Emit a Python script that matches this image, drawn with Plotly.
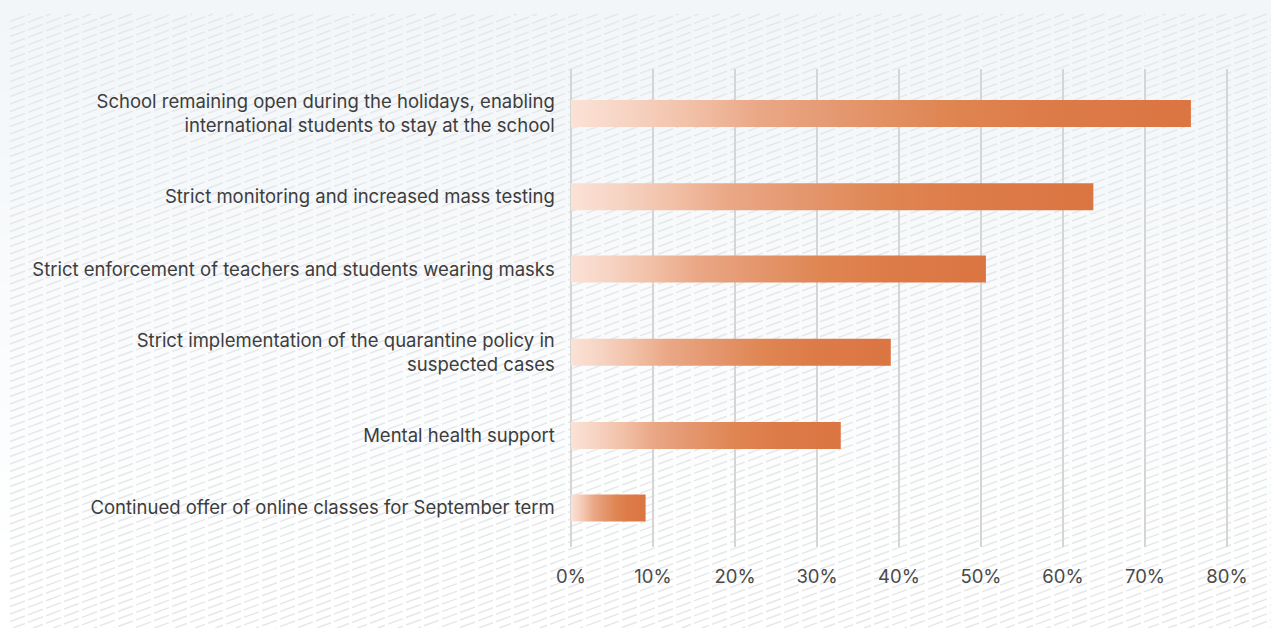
import plotly.graph_objects as go

# ---- data -------------------------------------------------------------
labels = [
    "School remaining open during the holidays, enabling<br>international students to stay at the school",
    "Strict monitoring and increased mass testing",
    "Strict enforcement of teachers and students wearing masks",
    "Strict implementation of the quarantine policy in<br>suspected cases",
    "Mental health support",
    "Continued offer of online classes for September term",
]
values = [75.6, 63.7, 50.6, 39.0, 32.9, 9.1]
x_ticks = [0, 10, 20, 30, 40, 50, 60, 70, 80]
x_tick_labels = [f"{t}%" for t in x_ticks]

# ---- layout constants (pixels) ---------------------------------------
W, H = 1271, 628
PLOT_TOP, PLOT_BOTTOM = 69, 547
X0_PX, PX_PER_UNIT = 571, 8.2
FIRST_ROW = 113.5          # centre of first row
ROW_GAP = 72.4             # gap between single-line rows
EXTRA_LINE_GAP = 10.8      # extra gap per additional label line
BAR_HALF = 13.5

BAR_SCALE = [
    [0.0, "#fbe2d6"], [0.1, "#f6d2c1"], [0.2, "#f1bfa5"], [0.3, "#eaa887"],
    [0.45, "#e4966d"], [0.6, "#df8653"], [0.75, "#dd7c49"], [1.0, "#db7542"],
]


def px(x):
    return x / W


def py(y):
    return 1 - y / H


fig = go.Figure()

# ---- background texture: dashed diagonal strokes on a full-page overlay ----
HX0, HX1, HY0, HY1 = 10, W, 14, H
SLOPE, SPACING = 0.37, 7.5          # stroke slope (up to the right), line spacing
PERIOD, DASH = 18.0, 15.0           # horizontal dash period / dash length
hx, hy = [], []
b = HY0
while b < HY1 + SLOPE * (HX1 - HX0) + SPACING:
    k = 0
    while HX0 + k * PERIOD < HX1:
        xa = HX0 + k * PERIOD
        xb = min(xa + DASH, HX1)
        ya = b - SLOPE * (xa - HX0)
        yb = b - SLOPE * (xb - HX0)
        # clip the dash to the textured band
        if ya > HY1:
            xa = HX0 + (b - HY1) / SLOPE
            ya = HY1
        if yb < HY0:
            xb = HX0 + (b - HY0) / SLOPE
            yb = HY0
        if xb > xa and ya >= HY0 and yb <= HY1:
            hx += [xa, xb, None]
            hy += [ya, yb, None]
        k += 1
    b += SPACING

fig.add_trace(go.Scatter(
    x=hx, y=hy, mode="lines", xaxis="x", yaxis="y",
    line=dict(color="#e5e7e9", width=1.5),
    hoverinfo="skip", showlegend=False,
))

# ---- bars with a horizontal gradient -----------------------------------
lines = [lab.count("<br>") + 1 for lab in labels]
centres = [FIRST_ROW]
for i in range(1, len(labels)):
    extra = (lines[i - 1] - 1) + (lines[i] - 1)
    centres.append(centres[-1] + ROW_GAP + EXTRA_LINE_GAP * extra)

for lab, v, c in zip(labels, values, centres):
    fig.add_trace(go.Scatter(
        x=[0, v, v, 0, 0],
        y=[c - BAR_HALF, c - BAR_HALF, c + BAR_HALF, c + BAR_HALF, c - BAR_HALF],
        xaxis="x2", yaxis="y2",
        mode="lines", line=dict(width=0), fill="toself",
        fillgradient=dict(type="horizontal", colorscale=BAR_SCALE),
        hoverinfo="skip", showlegend=False,
    ))

# soft page background: pale blue at the top fading to white
shapes = []
N_BANDS = 40
top_rgb = (242, 246, 249)
for i in range(N_BANDS):
    t = i / (N_BANDS - 1)
    r, g, bb = (int(round(a + (255 - a) * min(1, t * 1.1))) for a in top_rgb)
    y0 = H * i / N_BANDS
    y1 = H * (i + 1) / N_BANDS + 1
    shapes.append(dict(type="rect", xref="paper", yref="paper",
                       x0=0, x1=1, y0=py(y1), y1=py(y0),
                       fillcolor=f"rgb({r},{g},{bb})", line=dict(width=0),
                       layer="below"))

x_lo, x_hi = -1, 81
fig.update_layout(
    width=W, height=H, autosize=False,
    margin=dict(l=0, r=0, t=0, b=0, pad=0),
    paper_bgcolor="#ffffff", plot_bgcolor="rgba(0,0,0,0)",
    font=dict(family="Inter", color="#404040"),
    shapes=shapes,
    # full-page overlay axes for the texture
    xaxis=dict(domain=[0, 1], range=[0, W], visible=False, fixedrange=True,
               automargin=False),
    yaxis=dict(domain=[0, 1], range=[H, 0], visible=False, fixedrange=True,
               automargin=False),
    # chart axes
    xaxis2=dict(
        anchor="y2",
        range=[x_lo, x_hi],
        domain=[px(X0_PX + x_lo * PX_PER_UNIT), px(X0_PX + x_hi * PX_PER_UNIT)],
        tickvals=x_ticks, ticktext=x_tick_labels,
        showgrid=True, gridcolor="#d5d5d5", gridwidth=1.5,
        zeroline=False, showline=False, ticks="",
        ticklabelstandoff=16, automargin=False,
        tickfont=dict(size=18.5, color="#4a4a4a"),
        fixedrange=True,
    ),
    yaxis2=dict(
        anchor="x2",
        range=[PLOT_BOTTOM, PLOT_TOP],
        domain=[py(PLOT_BOTTOM), py(PLOT_TOP)],
        tickvals=centres, ticktext=labels,
        showgrid=False, zeroline=False, showline=False, ticks="",
        ticklabelstandoff=7, automargin=False,
        tickfont=dict(size=18.5, color="#3d3d3d"),
        fixedrange=True,
    ),
)

fig.write_html("out.html", config={"displayModeBar": False})
